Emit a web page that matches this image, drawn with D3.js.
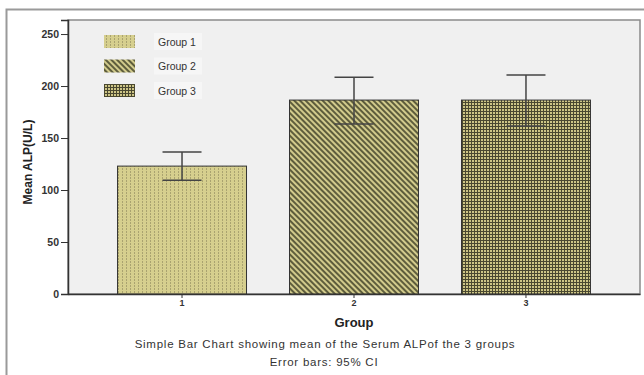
<!DOCTYPE html>
<html>
<head>
<meta charset="utf-8">
<script src="https://cdn.jsdelivr.net/npm/d3@7"></script>
<style>
  body { margin: 0; background: #fff; }
  svg text { font-family: "Liberation Sans", Arial, sans-serif; }
</style>
</head>
<body>
<div id="chart"></div>
<script>
// data
const groups = ["1", "2", "3"];
const legendNames = ["Group 1", "Group 2", "Group 3"];
const means = [123, 186.5, 186.5];
const ciLow = [109.5, 163.5, 161.5];
const ciHigh = [136.5, 208.5, 210.5];
const yTicks = [0, 50, 100, 150, 200, 250];

const width = 644, height = 375;
const plot = { left: 68, right: 640, top: 20, bottom: 294 };
const patternIds = ["pat1", "pat2", "pat3"];

const svg = d3.select("#chart").append("svg")
    .attr("width", width)
    .attr("height", height);

// patterns for the bars
const defs = svg.append("defs");
const khaki = "#d6cf8e";

const p1 = defs.append("pattern").attr("id", "pat1")
    .attr("patternUnits", "userSpaceOnUse").attr("width", 4).attr("height", 3);
p1.append("rect").attr("width", 4).attr("height", 3).attr("fill", khaki);
p1.append("rect").attr("x", 2).attr("y", 0).attr("width", 1).attr("height", 2).attr("fill", "#aaa370");

const p2 = defs.append("pattern").attr("id", "pat2")
    .attr("patternUnits", "userSpaceOnUse").attr("width", 4).attr("height", 4)
    .attr("patternTransform", "rotate(-45)");
p2.append("rect").attr("width", 4).attr("height", 4).attr("fill", "#d2cb8c");
p2.append("rect").attr("x", 0).attr("width", 2).attr("height", 4).attr("fill", "#5e5d3c");

const p3 = defs.append("pattern").attr("id", "pat3")
    .attr("patternUnits", "userSpaceOnUse").attr("width", 3).attr("height", 3);
p3.append("rect").attr("width", 3).attr("height", 3).attr("fill", "#cdc586");
p3.append("rect").attr("x", 0).attr("width", 1).attr("height", 3).attr("fill", "#4a4830");
p3.append("rect").attr("y", 0).attr("width", 3).attr("height", 1).attr("fill", "#4a4830");

// outer frame
svg.append("path")
    .attr("d", "M6.5," + height + "V9.5H" + width)
    .attr("fill", "none")
    .attr("stroke", "#9a9a9a")
    .attr("stroke-width", 2);

// plot background
svg.append("rect")
    .attr("x", plot.left).attr("y", plot.top)
    .attr("width", plot.right - plot.left).attr("height", plot.bottom - plot.top)
    .attr("fill", "#f0f0f0")
    .attr("stroke", "#8a8a8a")
    .attr("stroke-width", 1.5);

const x = d3.scaleBand()
    .domain(groups)
    .range([plot.left, plot.right])
    .paddingInner(0.25)
    .paddingOuter(0.288);

const y = d3.scaleLinear()
    .domain([0, 263.5])
    .range([plot.bottom, plot.top]);

// bars
svg.append("g").selectAll("rect")
    .data(groups)
    .enter()
    .append("rect")
    .attr("x", d => x(d))
    .attr("y", (d, i) => y(means[i]))
    .attr("width", x.bandwidth())
    .attr("height", (d, i) => y(0) - y(means[i]))
    .attr("fill", (d, i) => "url(#" + patternIds[i] + ")")
    .attr("stroke", "#333")
    .attr("stroke-width", 1);

// error bars
const eb = svg.append("g").attr("stroke", "#444").attr("stroke-width", 1.5);
groups.forEach((g, i) => {
    const cx = x(g) + x.bandwidth() / 2;
    eb.append("line").attr("x1", cx).attr("x2", cx).attr("y1", y(ciLow[i])).attr("y2", y(ciHigh[i]));
    eb.append("line").attr("x1", cx - 19.5).attr("x2", cx + 19.5).attr("y1", y(ciLow[i])).attr("y2", y(ciLow[i]));
    eb.append("line").attr("x1", cx - 19.5).attr("x2", cx + 19.5).attr("y1", y(ciHigh[i])).attr("y2", y(ciHigh[i]));
});

// y axis
const yAxis = svg.append("g")
    .attr("transform", "translate(" + plot.left + ",0)")
    .call(d3.axisLeft(y).tickValues(yTicks).tickSize(7).tickPadding(2));
yAxis.select(".domain").attr("stroke", "#333").attr("stroke-width", 1.5);
yAxis.selectAll(".tick line").attr("stroke", "#333");
yAxis.selectAll(".tick text")
    .attr("fill", "#333")
    .style("font-size", "10.5px")
    .style("font-weight", "bold");

// x axis
const xAxis = svg.append("g")
    .attr("transform", "translate(0," + plot.bottom + ")")
    .call(d3.axisBottom(x).tickSize(4).tickPadding(2).tickSizeOuter(0));
xAxis.select(".domain").attr("stroke", "#333").attr("stroke-width", 1.5);
xAxis.selectAll(".tick line").attr("stroke", "#333");
xAxis.selectAll(".tick text")
    .attr("fill", "#333")
    .style("font-size", "9px")
    .style("font-weight", "bold");

// axis titles
svg.append("text")
    .attr("x", 354).attr("y", 327)
    .attr("text-anchor", "middle")
    .style("font-size", "13px")
    .style("font-weight", "bold")
    .attr("fill", "#222")
    .text("Group");

svg.append("text")
    .attr("transform", "translate(32,162) rotate(-90)")
    .attr("text-anchor", "middle")
    .style("font-size", "12px")
    .style("font-weight", "bold")
    .attr("fill", "#222")
    .text("Mean ALP(U/L)");

// captions
svg.append("text")
    .attr("x", 325).attr("y", 348)
    .attr("text-anchor", "middle")
    .style("font-size", "11.5px")
    .style("letter-spacing", "0.75px")
    .attr("fill", "#333")
    .text("Simple Bar Chart showing mean of the Serum ALPof the 3 groups");

svg.append("text")
    .attr("x", 324).attr("y", 366)
    .attr("text-anchor", "middle")
    .style("font-size", "11.5px")
    .style("letter-spacing", "0.75px")
    .attr("fill", "#333")
    .text("Error bars: 95% CI");

// legend
const legend = svg.append("g").selectAll("g")
    .data(legendNames)
    .enter()
    .append("g")
    .attr("transform", (d, i) => "translate(104," + (35 + i * 24.5) + ")");
legend.append("rect")
    .attr("width", 31).attr("height", 13)
    .attr("fill", (d, i) => "url(#" + patternIds[i] + ")");
legend.append("rect")
    .attr("x", 50).attr("y", -2)
    .attr("width", 48).attr("height", 17)
    .attr("fill", "#f6f6f6");
legend.append("text")
    .attr("x", 54).attr("y", 10.5)
    .style("font-size", "10.5px")
    .attr("fill", "#333")
    .text(d => d);
</script>
</body>
</html>
